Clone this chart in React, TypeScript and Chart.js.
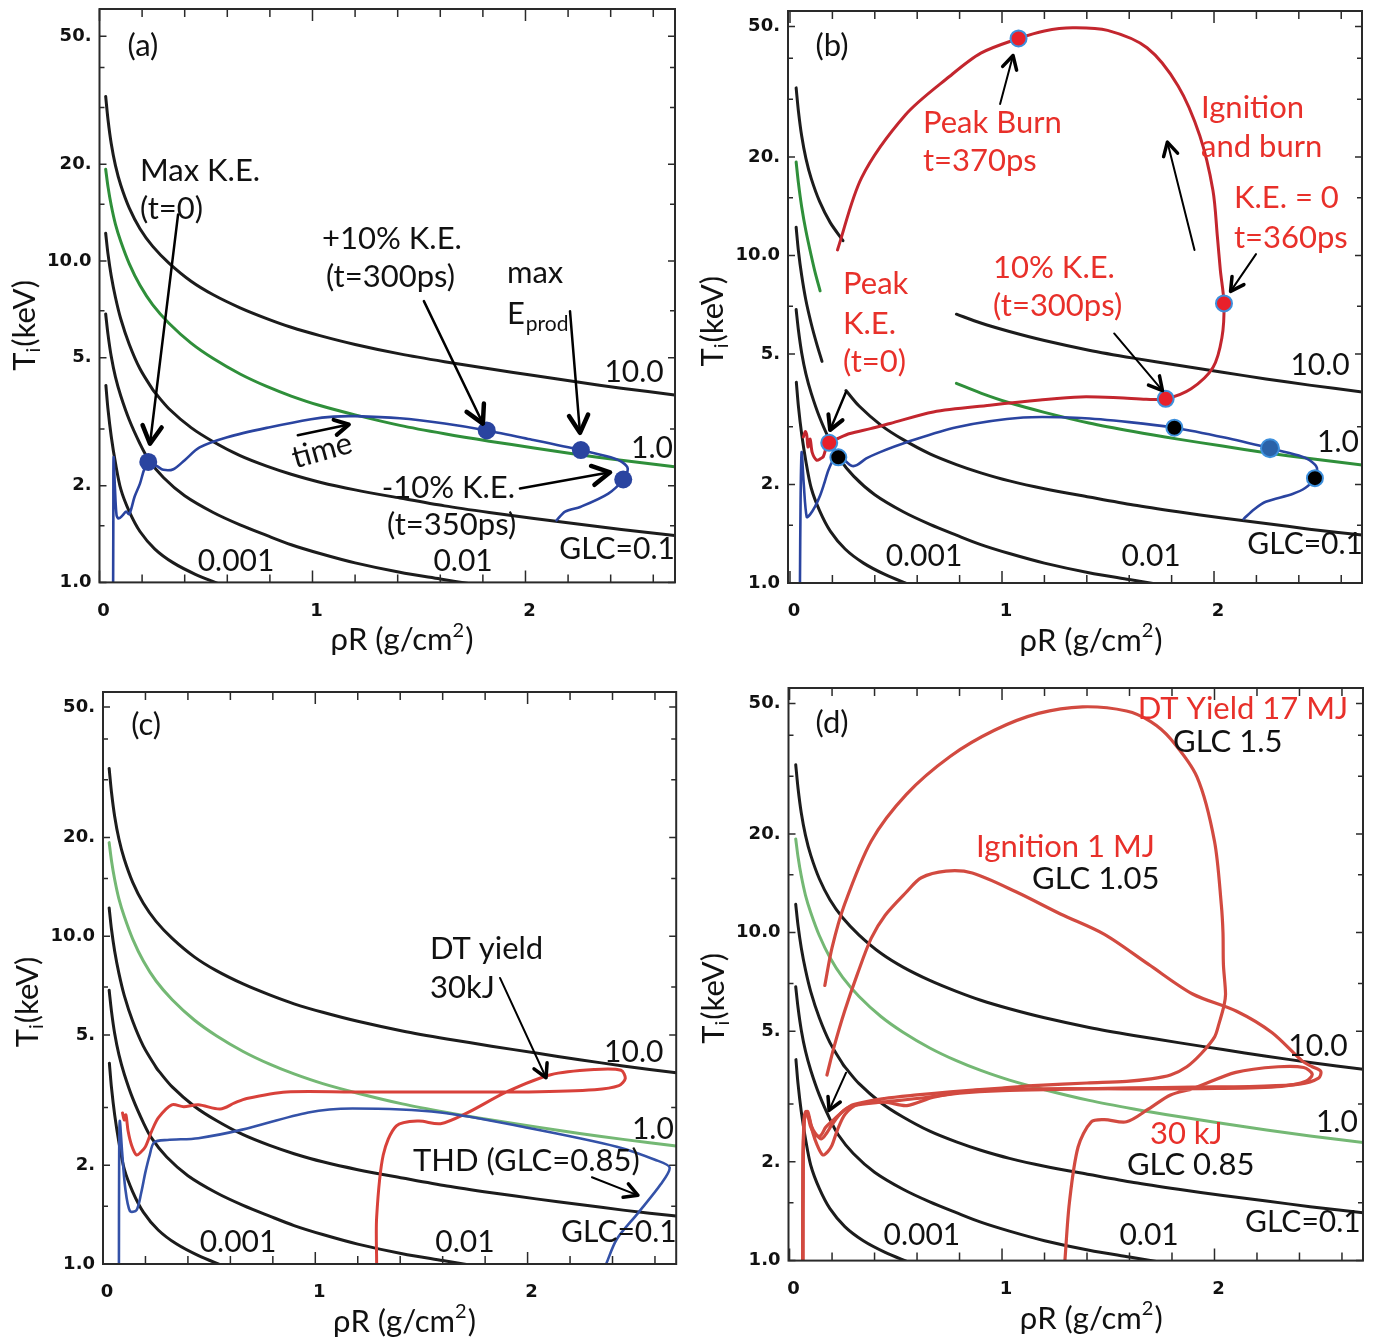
import React, { useEffect, useRef } from "react";
import { Chart, registerables } from "chart.js";

Chart.register(...registerables);

type Pt = [number, number];

// ---------- GLC contour lines (rhoR [g/cm2], Ti [keV]) ----------
const glc10: Pt[] = [
  [0.029, 32.5], [0.04, 27.5], [0.055, 23.2], [0.075, 19.8], [0.1, 17.2], [0.14, 14.6], [0.19, 12.6],
  [0.25, 11.1], [0.326, 9.85], [0.43, 8.65], [0.534, 7.85], [0.66, 7.15], [0.785, 6.62], [0.9, 6.22],
  [1.035, 5.86], [1.2, 5.5], [1.41, 5.14], [1.62, 4.86], [1.83, 4.62], [2.04, 4.4], [2.245, 4.2],
  [2.45, 4.02], [2.7, 3.83],
];
const glc1: Pt[] = [
  [0.029, 19.3], [0.04, 17.0], [0.055, 14.9], [0.075, 13.0], [0.1, 11.5], [0.14, 9.8], [0.19, 8.4],
  [0.25, 7.3], [0.326, 6.4], [0.43, 5.55], [0.534, 4.97], [0.66, 4.45], [0.785, 4.07], [0.9, 3.8],
  [1.035, 3.55], [1.2, 3.32], [1.41, 3.08], [1.62, 2.9], [1.83, 2.75], [2.04, 2.62], [2.245, 2.5],
  [2.45, 2.4], [2.7, 2.29],
];
const glc01: Pt[] = [
  [0.029, 12.2], [0.04, 10.5], [0.055, 9.0], [0.075, 7.7], [0.1, 6.6], [0.14, 5.5], [0.19, 4.62],
  [0.25, 3.98], [0.264, 3.87], [0.326, 3.47], [0.43, 3.03], [0.534, 2.74], [0.66, 2.48], [0.785, 2.3],
  [0.9, 2.17], [1.035, 2.05], [1.2, 1.94], [1.41, 1.83], [1.62, 1.73], [1.83, 1.65], [2.04, 1.58],
  [2.245, 1.52], [2.45, 1.46], [2.7, 1.4],
];
const glc001: Pt[] = [
  [0.029, 6.84], [0.04, 5.9], [0.055, 5.05], [0.075, 4.35], [0.1, 3.8], [0.14, 3.2], [0.19, 2.7],
  [0.229, 2.42], [0.3, 2.12], [0.4, 1.86], [0.534, 1.65], [0.66, 1.51], [0.785, 1.4], [0.9, 1.31],
  [1.035, 1.23], [1.2, 1.15], [1.41, 1.075], [1.6, 1.025], [1.74, 0.99],
];
const glc0001: Pt[] = [
  [0.03, 4.1], [0.04, 3.45], [0.055, 2.85], [0.075, 2.35], [0.1, 1.95], [0.14, 1.66], [0.19, 1.44],
  [0.26, 1.27], [0.347, 1.15], [0.45, 1.06], [0.56, 0.99],
];
// panel (b): left pieces of the green and 0.1 contours (cut by the white label box)
const glc1LeftB: Pt[] = [
  [0.029, 19.3], [0.04, 16.6], [0.055, 14.1], [0.075, 11.9], [0.1, 10.0], [0.12, 8.8], [0.142, 7.8],
];
const glc01LeftB: Pt[] = [
  [0.029, 12.2], [0.04, 10.3], [0.055, 8.7], [0.075, 7.3], [0.1, 6.2], [0.125, 5.4], [0.151, 4.75],
];

// ---------- trajectories ----------
const blueA: Pt[] = [
  [0.064, 1.0], [0.065, 1.6], [0.066, 2.45], [0.072, 2.0], [0.08, 1.62], [0.09, 1.58], [0.11, 1.62],
  [0.125, 1.66], [0.14, 1.63], [0.165, 1.85], [0.19, 2.03], [0.21, 2.25], [0.229, 2.37], [0.27, 2.3],
  [0.3, 2.24], [0.347, 2.25], [0.4, 2.4], [0.47, 2.63], [0.6, 2.83], [0.8, 3.04], [0.993, 3.22],
  [1.1, 3.28], [1.2, 3.29], [1.41, 3.24], [1.62, 3.12], [1.818, 2.97], [2.03, 2.78], [2.26, 2.58],
  [2.4, 2.45], [2.452, 2.37], [2.48, 2.26], [2.459, 2.09], [2.389, 1.89], [2.26, 1.72], [2.186, 1.66],
  [2.146, 1.56],
];
const markA: Pt[] = [[0.229, 2.37], [1.818, 2.97], [2.26, 2.58], [2.459, 2.09]];

const blueB: Pt[] = [
  [0.047, 1.0], [0.05, 1.8], [0.055, 2.51], [0.065, 2.0], [0.079, 1.59], [0.095, 1.62], [0.118, 1.71],
  [0.142, 1.85], [0.16, 2.0], [0.181, 2.21], [0.205, 2.38], [0.228, 2.42], [0.26, 2.36], [0.29, 2.28],
  [0.315, 2.29], [0.36, 2.4], [0.425, 2.51], [0.55, 2.69], [0.786, 2.99], [1.1, 3.2], [1.372, 3.19],
  [1.6, 3.1], [1.813, 2.98], [2.05, 2.78], [2.264, 2.58], [2.4, 2.45], [2.451, 2.37], [2.485, 2.25],
  [2.476, 2.09], [2.43, 1.95], [2.37, 1.87], [2.244, 1.77], [2.19, 1.68], [2.14, 1.57],
];
const redB: Pt[] = [
  [0.063, 2.79], [0.072, 2.9], [0.079, 2.83], [0.085, 2.6], [0.095, 2.75], [0.105, 2.5], [0.126, 2.37],
  [0.145, 2.4], [0.157, 2.43], [0.17, 2.58], [0.185, 2.68], [0.23, 2.77], [0.283, 2.86], [0.38, 2.96],
  [0.472, 3.07], [0.676, 3.33], [0.943, 3.49], [1.18, 3.62], [1.37, 3.7], [1.55, 3.68], [1.68, 3.64],
  [1.772, 3.65], [1.892, 3.92], [1.995, 4.55], [2.037, 5.6], [2.047, 7.14], [2.03, 9.0], [2.016, 11.4],
  [1.995, 15.8], [1.933, 23.2], [1.83, 33], [1.684, 43.1], [1.498, 48.7], [1.333, 49.6], [1.2, 48.5],
  [1.078, 46.0], [0.9, 41.5], [0.752, 35.2], [0.545, 26.9], [0.338, 17.3], [0.224, 10.4],
];
const markBred: Pt[] = [[0.185, 2.68], [1.772, 3.65], [2.047, 7.14], [1.078, 46.0]];
const markBblack: Pt[] = [[0.228, 2.42], [1.813, 2.98], [2.476, 2.09]];
const markBblue: Pt[] = [[2.264, 2.58]];

const blueC: Pt[] = [
  [0.075, 1.0], [0.076, 2.0], [0.079, 2.73], [0.09, 2.2], [0.105, 1.7], [0.127, 1.45], [0.158, 1.46],
  [0.18, 1.65], [0.2, 1.91], [0.22, 2.15], [0.241, 2.35], [0.303, 2.39], [0.449, 2.42], [0.656, 2.57],
  [0.967, 2.9], [1.175, 2.98], [1.59, 2.9], [2.005, 2.6], [2.42, 2.28], [2.6, 2.08], [2.669, 1.97],
  [2.627, 1.75], [2.52, 1.43], [2.42, 1.19], [2.37, 1.0],
];
const redC: Pt[] = [
  [0.092, 2.89], [0.1, 2.75], [0.108, 2.85], [0.118, 2.55], [0.135, 2.3], [0.158, 2.15], [0.18, 2.2],
  [0.2, 2.28], [0.23, 2.55], [0.262, 2.8], [0.324, 3.06], [0.38, 3.02], [0.449, 3.06], [0.552, 2.97],
  [0.62, 3.1], [0.677, 3.2], [0.864, 3.35], [1.175, 3.35], [1.6, 3.35], [2.005, 3.35], [2.316, 3.4],
  [2.43, 3.5], [2.46, 3.68], [2.44, 3.9], [2.316, 3.92], [2.109, 3.78], [1.901, 3.35], [1.715, 2.89],
  [1.59, 2.68], [1.486, 2.73], [1.382, 2.64], [1.32, 2.15], [1.289, 1.39], [1.289, 1.0],
];

const red30kJ: Pt[] = [
  [0.062, 1.0], [0.063, 1.9], [0.068, 2.65], [0.075, 2.78], [0.085, 2.85], [0.095, 2.7], [0.11, 2.45],
  [0.13, 2.25], [0.156, 2.1], [0.18, 2.15], [0.2, 2.25], [0.225, 2.5], [0.262, 2.8], [0.324, 3.0],
  [0.449, 3.04], [0.552, 2.97], [0.677, 3.15], [0.864, 3.3], [1.175, 3.34], [1.6, 3.34], [2.005, 3.35],
  [2.316, 3.4], [2.43, 3.52], [2.46, 3.7], [2.42, 3.88], [2.3, 3.9], [2.1, 3.75], [1.901, 3.35],
  [1.793, 3.2], [1.69, 2.9], [1.586, 2.65], [1.482, 2.69], [1.42, 2.65], [1.358, 2.22], [1.317, 1.5],
  [1.296, 1.0],
];
const red1MJ: Pt[] = [
  [0.063, 1.0], [0.064, 2.0], [0.07, 2.7], [0.08, 2.8], [0.09, 2.75], [0.1, 2.6], [0.12, 2.45],
  [0.15, 2.35], [0.175, 2.45], [0.2, 2.6], [0.25, 2.85], [0.3, 2.97], [0.45, 3.05], [0.6, 3.12],
  [0.8, 3.24], [1.0, 3.3], [1.3, 3.33], [1.6, 3.36], [1.9, 3.38], [2.2, 3.4], [2.4, 3.45], [2.49, 3.6],
  [2.5, 3.78], [2.46, 3.9], [2.415, 4.05], [2.27, 4.96], [2.104, 5.76], [1.897, 6.5], [1.69, 8.0],
  [1.482, 9.88], [1.275, 11.4], [1.068, 13.3], [0.86, 15.2], [0.736, 15.4], [0.62, 14.7], [0.55, 13.3],
  [0.45, 11.3], [0.384, 9.6], [0.32, 7.5], [0.259, 5.76], [0.21, 4.5], [0.176, 3.68],
];
const red17MJ: Pt[] = [
  [0.062, 1.0], [0.064, 2.1], [0.069, 2.75], [0.078, 2.85], [0.09, 2.7], [0.1, 2.55], [0.12, 2.42],
  [0.145, 2.4], [0.17, 2.55], [0.197, 2.65], [0.25, 2.85], [0.301, 2.99], [0.446, 3.12], [0.6, 3.2],
  [0.757, 3.27], [1.0, 3.36], [1.171, 3.42], [1.4, 3.48], [1.586, 3.52], [1.7, 3.58], [1.793, 3.68],
  [1.87, 3.9], [1.938, 4.28], [2.0, 4.8], [2.021, 5.27], [2.045, 6.0], [2.052, 6.5], [2.042, 8.0],
  [2.04, 10], [2.032, 12.2], [2.0, 19.0], [1.918, 29.8], [1.793, 39.0], [1.7, 44], [1.586, 47.4],
  [1.379, 48.8], [1.171, 46.6], [0.964, 41.4], [0.757, 34.5], [0.55, 26.4], [0.384, 19.0],
  [0.259, 12.2], [0.2, 9.0], [0.166, 6.9],
];

// ---------- ticks ----------
const yMajorVals = [1, 2, 5, 10, 20, 50];
const yMajorLabels = ["1.0", "2.", "5.", "10.0", "20.", "50."];
const yMinorVals = [1.5, 3, 7, 15, 30, 40];
const xMajorVals = [0, 1, 2];
const xMajorLabels = ["0", "1", "2"];
const xMinorVals = [0.2, 0.4, 0.6, 0.8, 1.2, 1.4, 1.6, 1.8, 2.2, 2.4, 2.6];

// ---------- styling ----------
const BLACK = "#1c1c1c";
const GREEN_DARK = "#2f8f3a";
const GREEN_LIGHT = "#74b874";
const BLUE = "#2a44a0";
const RED_B = "#c3262e";
const RED_C = "#d8413a";
const RED_D = "#d24a40";
const TXT_RED = "#e8302a";
const FONT = "Lato";
const TICK_FONT = { family: "DejaVu Sans", size: 18, weight: "bold" as const };

interface TextItem { x: number; y: number; t: string; align?: CanvasTextAlign; color?: string; sub?: string; rot?: number; size?: number }
interface ArrowItem { x1: number; y1: number; x2: number; y2: number; w?: number; head?: number; hw?: number }
interface PanelCfg {
  id: string; left: number; top: number; width: number; height: number;
  area: { l: number; t: number; r: number; b: number };
  xMin: number; xMax: number; yMax: number;
  datasets: any[]; texts: TextItem[]; arrows: ArrowItem[];
}

const toXY = (p: Pt[]) => p.map(([x, y]) => ({ x, y }));
const line = (p: Pt[], color: string, width: number, order = 2) => ({
  data: toXY(p), showLine: true, borderColor: color, borderWidth: width, pointRadius: 0,
  tension: 0.3, fill: false, order, borderCapStyle: "round", borderJoinStyle: "round",
});
const dots = (p: Pt[], fill: string, border: string, r: number, bw: number) => ({
  data: toXY(p), showLine: false, pointRadius: r, pointBackgroundColor: fill,
  pointBorderColor: border, pointBorderWidth: bw, order: 0,
});
const from = (p: Pt[], a: number): Pt[] => p.filter((q) => q[0] >= a);
const upto = (p: Pt[], a: number): Pt[] => p.filter((q) => q[0] <= a);

const contours = (green: string) => [
  line(glc10, BLACK, 3), line(glc1, green, 3), line(glc01, BLACK, 3), line(glc001, BLACK, 3), line(glc0001, BLACK, 3),
];

const contourLabels = (pos: number[][]): TextItem[] => {
  const names = ["10.0", "1.0", "GLC=0.1", "0.01", "0.001"];
  return names.map((n, i) => ({ x: pos[i][0], y: pos[i][1], t: n, align: "center" as CanvasTextAlign, size: 30 }));
};

const HA = { w: 2.5, head: 20, hw: 4.5 };
const HB = { w: 2, head: 15, hw: 3.5 };

const panels: PanelCfg[] = [
  {
    id: "a", left: 0, top: 0, width: 686, height: 668,
    area: { l: 99.5, t: 7, r: 675, b: 582.4 }, xMin: 0, xMax: 2.702, yMax: 60.8,
    datasets: [...contours(GREEN_DARK), line(blueA, BLUE, 2.6, 1), dots(markA, BLUE, BLUE, 9, 0)],
    texts: [
      { x: 0.204, y: 46.7, t: "(a)", align: "center" },
      { x: 0.19, y: 19.0, t: "Max K.E." },
      { x: 0.19, y: 14.5, t: "(t=0)" },
      { x: 1.045, y: 11.7, t: "+10% K.E." },
      { x: 1.063, y: 8.9, t: "(t=300ps)" },
      { x: 1.913, y: 9.17, t: "max" },
      { x: 1.913, y: 6.84, t: "E", sub: "prod" },
      { x: 1.045, y: 2.57, t: "time", align: "center", rot: -0.27 },
      { x: 1.951, y: 1.96, t: "-10% K.E.", align: "right" },
      { x: 1.35, y: 1.506, t: "(t=350ps)" },
      ...contourLabels([[2.51, 4.49], [2.594, 2.61], [2.43, 1.27], [1.707, 1.165], [0.641, 1.165]]),
    ],
    arrows: [
      { x1: 0.369, y1: 13.96, x2: 0.237, y2: 2.7, ...HA },
      { x1: 1.523, y1: 7.5, x2: 1.8, y2: 3.12, ...HA },
      { x1: 2.209, y1: 6.98, x2: 2.256, y2: 2.92, ...HA },
      { x1: 1.974, y1: 1.96, x2: 2.397, y2: 2.2, ...HA },
      { x1: 0.931, y1: 2.87, x2: 1.171, y2: 3.1, w: 2.5, head: 16, hw: 4 },
    ],
  },
  {
    id: "b", left: 686, top: 0, width: 687, height: 668,
    area: { l: 102, t: 10, r: 676, b: 583 }, xMin: -0.0094, xMax: 2.698, yMax: 55.8,
    datasets: [
      line(upto(glc10, 0.25), BLACK, 3), line(from(glc10, 0.785), BLACK, 3),
      line(glc1LeftB, GREEN_DARK, 3), line(from(glc1, 0.785), GREEN_DARK, 3),
      line(glc01LeftB, BLACK, 3), line(from(glc01, 0.264), BLACK, 3),
      line(glc001, BLACK, 3), line(glc0001, BLACK, 3),
      line(blueB, BLUE, 2.6, 1), line(redB, RED_B, 3, 1),
      dots(markBred, "#e8202a", "#3d8fdc", 8, 2),
      dots(markBblack, "#000000", "#3d8fdc", 8, 2),
      dots(markBblue, "#2a62a8", "#3d8fdc", 9, 2),
    ],
    texts: [
      { x: 0.198, y: 43.7, t: "(b)", align: "center" },
      { x: 0.627, y: 25.4, t: "Peak Burn", color: TXT_RED },
      { x: 0.627, y: 19.5, t: "t=370ps", color: TXT_RED },
      { x: 1.939, y: 28.3, t: "Ignition", color: TXT_RED },
      { x: 1.939, y: 21.5, t: "and burn", color: TXT_RED },
      { x: 2.094, y: 15.0, t: "K.E. = 0", color: TXT_RED },
      { x: 2.094, y: 11.3, t: "t=360ps", color: TXT_RED },
      { x: 0.958, y: 9.13, t: "10% K.E.", color: TXT_RED },
      { x: 0.958, y: 6.99, t: "(t=300ps)", color: TXT_RED },
      { x: 0.25, y: 8.16, t: "Peak", color: TXT_RED },
      { x: 0.25, y: 6.17, t: "K.E.", color: TXT_RED },
      { x: 0.25, y: 4.72, t: "(t=0)", color: TXT_RED },
      ...contourLabels([[2.5, 4.62], [2.585, 2.69], [2.43, 1.31], [1.703, 1.21], [0.632, 1.21]]),
    ],
    arrows: [
      { x1: 0.991, y1: 29.0, x2: 1.052, y2: 40.8, ...HB },
      { x1: 1.908, y1: 10.4, x2: 1.78, y2: 22.2, ...HB },
      { x1: 2.198, y1: 10.1, x2: 2.078, y2: 7.77, ...HB },
      { x1: 1.529, y1: 5.78, x2: 1.757, y2: 3.87, ...HB },
      { x1: 0.264, y1: 3.83, x2: 0.189, y2: 2.93, w: 2.5, head: 16, hw: 4 },
    ],
  },
  {
    id: "c", left: 0, top: 668, width: 686, height: 669,
    area: { l: 103, t: 24, r: 676.2, b: 596 }, xMin: 0, xMax: 2.7, yMax: 55.6,
    datasets: [...contours(GREEN_LIGHT), line(blueC, "#3452a8", 2.6, 1), line(redC, RED_C, 3, 1)],
    texts: [
      { x: 0.203, y: 44.1, t: "(c)", align: "center" },
      { x: 1.54, y: 9.14, t: "DT yield" },
      { x: 1.54, y: 6.95, t: "30kJ" },
      { x: 1.46, y: 2.06, t: "THD (GLC=0.85)" },
      ...contourLabels([[2.5, 4.43], [2.59, 2.58], [2.43, 1.25], [1.705, 1.167], [0.636, 1.167]]),
    ],
    arrows: [
      { x1: 1.87, y1: 7.46, x2: 2.087, y2: 3.7, ...HB },
      { x1: 2.303, y1: 1.84, x2: 2.52, y2: 1.62, ...HB },
    ],
  },
  {
    id: "d", left: 686, top: 668, width: 687, height: 669,
    area: { l: 102.5, t: 20, r: 677, b: 592.6 }, xMin: -0.005, xMax: 2.699, yMax: 55.7,
    datasets: [
      ...contours(GREEN_LIGHT),
      line(red30kJ, RED_D, 3.2, 1), line(red1MJ, RED_D, 3.2, 1), line(red17MJ, RED_D, 3.2, 1),
    ],
    texts: [
      { x: 0.2, y: 43.7, t: "(d)", align: "center" },
      { x: 2.629, y: 47.9, t: "DT Yield 17 MJ", align: "right", color: TXT_RED },
      { x: 1.805, y: 38.2, t: "GLC 1.5" },
      { x: 0.878, y: 18.3, t: "Ignition 1 MJ", color: TXT_RED },
      { x: 1.141, y: 14.6, t: "GLC 1.05" },
      { x: 1.696, y: 2.44, t: "30 kJ", color: TXT_RED },
      { x: 1.588, y: 1.95, t: "GLC 0.85" },
      ...contourLabels([[2.487, 4.49], [2.576, 2.64], [2.416, 1.31], [1.692, 1.19], [0.623, 1.19]]),
    ],
    arrows: [{ x1: 0.266, y1: 3.74, x2: 0.186, y2: 2.87, w: 2, head: 14, hw: 3.5 }],
  },
];

function drawArrow(ctx: CanvasRenderingContext2D, x1: number, y1: number, x2: number, y2: number, w: number, head: number, hw: number) {
  ctx.strokeStyle = "#000";
  ctx.lineCap = "round";
  ctx.lineJoin = "round";
  ctx.lineWidth = w;
  ctx.beginPath();
  ctx.moveTo(x1, y1);
  ctx.lineTo(x2, y2);
  ctx.stroke();
  const ang = Math.atan2(y2 - y1, x2 - x1);
  const a1 = ang + Math.PI - 0.5;
  const a2 = ang + Math.PI + 0.5;
  ctx.lineWidth = hw;
  ctx.beginPath();
  ctx.moveTo(x2 + head * Math.cos(a1), y2 + head * Math.sin(a1));
  ctx.lineTo(x2, y2);
  ctx.lineTo(x2 + head * Math.cos(a2), y2 + head * Math.sin(a2));
  ctx.stroke();
}

function makeDecor(cfg: PanelCfg) {
  return {
    id: "decor_" + cfg.id,
    afterDatasetsDraw(chart: any) {
      const ctx: CanvasRenderingContext2D = chart.ctx;
      const a = chart.chartArea;
      const xs = chart.scales.x;
      const ys = chart.scales.y;
      const px = (v: number) => xs.getPixelForValue(v);
      const py = (v: number) => ys.getPixelForValue(v);
      ctx.save();
      // inner ticks
      ctx.strokeStyle = "#2a2a2a";
      ctx.lineWidth = 1.5;
      ctx.beginPath();
      [...xMajorVals, ...xMinorVals].forEach((v) => {
        const L = xMajorVals.includes(v) ? 12 : 8;
        const X = px(v);
        ctx.moveTo(X, a.bottom); ctx.lineTo(X, a.bottom - L);
        ctx.moveTo(X, a.top); ctx.lineTo(X, a.top + L);
      });
      [...yMajorVals, ...yMinorVals].forEach((v) => {
        const L = yMajorVals.includes(v) ? 7 : 5;
        const Y = py(v);
        ctx.moveTo(a.left, Y); ctx.lineTo(a.left + L, Y);
        ctx.moveTo(a.right, Y); ctx.lineTo(a.right - L, Y);
      });
      ctx.stroke();
      ctx.lineWidth = 2;
      ctx.strokeRect(a.left, a.top, a.right - a.left, a.bottom - a.top);
      // arrows
      cfg.arrows.forEach((ar) => drawArrow(ctx, px(ar.x1), py(ar.y1), px(ar.x2), py(ar.y2), ar.w ?? 2, ar.head ?? 14, ar.hw ?? 3));
      // texts
      ctx.textBaseline = "middle";
      cfg.texts.forEach((t) => {
        const size = t.size ?? 31;
        ctx.font = `${size}px ${FONT}`;
        ctx.fillStyle = t.color ?? "#111";
        ctx.textAlign = t.align ?? "left";
        const X = px(t.x);
        const Y = py(t.y);
        if (t.rot) {
          ctx.save();
          ctx.translate(X, Y);
          ctx.rotate(t.rot);
          ctx.fillText(t.t, 0, 0);
          ctx.restore();
        } else {
          ctx.fillText(t.t, X, Y);
        }
        if (t.sub) {
          const w = ctx.measureText(t.t).width;
          ctx.font = `${Math.round(size * 0.68)}px ${FONT}`;
          ctx.textAlign = "left";
          ctx.fillText(t.sub, X + w + 1, Y + size * 0.32);
        }
      });
      // x axis title
      ctx.fillStyle = "#111";
      ctx.textAlign = "left";
      const big = `31px ${FONT}`;
      const small = `20px ${FONT}`;
      ctx.font = big;
      const p1 = "\u03c1R (g/cm";
      const p3 = ")";
      const w1 = ctx.measureText(p1).width;
      const w3 = ctx.measureText(p3).width;
      ctx.font = small;
      const w2 = ctx.measureText("2").width;
      const tw = w1 + w2 + w3 + 1;
      let sx = px(1.42) - tw / 2;
      const ty = a.bottom + 58;
      ctx.font = big;
      ctx.fillText(p1, sx, ty);
      sx += w1;
      ctx.font = small;
      ctx.fillText("2", sx, ty - 10);
      sx += w2 + 1;
      ctx.font = big;
      ctx.fillText(p3, sx, ty);
      // y axis title
      ctx.save();
      ctx.translate(a.left - 75, py(6.3));
      ctx.rotate(-Math.PI / 2);
      ctx.font = big;
      const q1 = ctx.measureText("T").width;
      const q3 = ctx.measureText("(keV)").width;
      ctx.font = small;
      const q2 = ctx.measureText("i").width;
      let qx = -(q1 + q2 + q3 + 1) / 2;
      ctx.font = big;
      ctx.fillText("T", qx, 0);
      qx += q1;
      ctx.font = small;
      ctx.fillText("i", qx, 9);
      qx += q2 + 1;
      ctx.font = big;
      ctx.fillText("(keV)", qx, 0);
      ctx.restore();
      ctx.restore();
    },
  };
}

function Panel({ cfg }: { cfg: PanelCfg }) {
  const ref = useRef<HTMLCanvasElement>(null);
  useEffect(() => {
    let chart: Chart | null = null;
    let cancelled = false;
    const build = () => {
      if (cancelled || !ref.current) return;
      chart = new Chart(ref.current, {
        type: "scatter",
        data: { datasets: cfg.datasets as any },
        options: {
          responsive: false,
          animation: false,
          devicePixelRatio: 1,
          layout: { padding: { left: 0, top: cfg.area.t, right: cfg.width - cfg.area.r, bottom: 0 } },
          plugins: { legend: { display: false }, tooltip: { enabled: false } },
          scales: {
            x: {
              type: "linear", min: cfg.xMin, max: cfg.xMax,
              grid: { display: false, drawTicks: false }, border: { display: false },
              ticks: {
                autoSkip: false, maxRotation: 0, padding: 18, labelOffset: 4, color: "#111",
                font: TICK_FONT,
                callback: (v: any) => { const i = xMajorVals.indexOf(Number(v)); return i >= 0 ? xMajorLabels[i] : ""; },
              },
              afterBuildTicks: (s: any) => { s.ticks = xMajorVals.map((v) => ({ value: v })); },
              afterFit: (s: any) => {
                s.height = cfg.height - cfg.area.b;
                s.paddingLeft = 0; s.paddingRight = 0; s.paddingTop = 0; s.paddingBottom = 0;
              },
            },
            y: {
              type: "logarithmic", min: 1, max: cfg.yMax,
              grid: { display: false, drawTicks: false }, border: { display: false },
              ticks: {
                autoSkip: false, padding: 8, color: "#111",
                font: TICK_FONT,
                callback: (v: any) => { const i = yMajorVals.indexOf(Number(v)); return i >= 0 ? yMajorLabels[i] : ""; },
              },
              afterBuildTicks: (s: any) => { s.ticks = yMajorVals.map((v) => ({ value: v })); },
              afterFit: (s: any) => {
                s.width = cfg.area.l;
                s.paddingLeft = 0; s.paddingRight = 0; s.paddingTop = 0; s.paddingBottom = 0;
              },
            },
          },
        } as any,
        plugins: [makeDecor(cfg)],
      });
    };
    const fonts: any = (document as any).fonts;
    if (fonts && fonts.load) {
      Promise.all([fonts.load(`31px ${FONT}`), fonts.load("bold 18px 'DejaVu Sans'")]).then(build, build);
    } else build();
    return () => { cancelled = true; if (chart) chart.destroy(); };
  }, [cfg]);
  return (
    <canvas
      ref={ref}
      width={cfg.width}
      height={cfg.height}
      style={{ position: "absolute", left: cfg.left, top: cfg.top, width: cfg.width, height: cfg.height }}
    />
  );
}

export default function App() {
  useEffect(() => { document.body.style.margin = "0"; }, []);
  return (
    <div style={{ position: "relative", width: 1373, height: 1337, background: "#fff", overflow: "hidden" }}>
      {panels.map((p) => <Panel key={p.id} cfg={p} />)}
    </div>
  );
}
